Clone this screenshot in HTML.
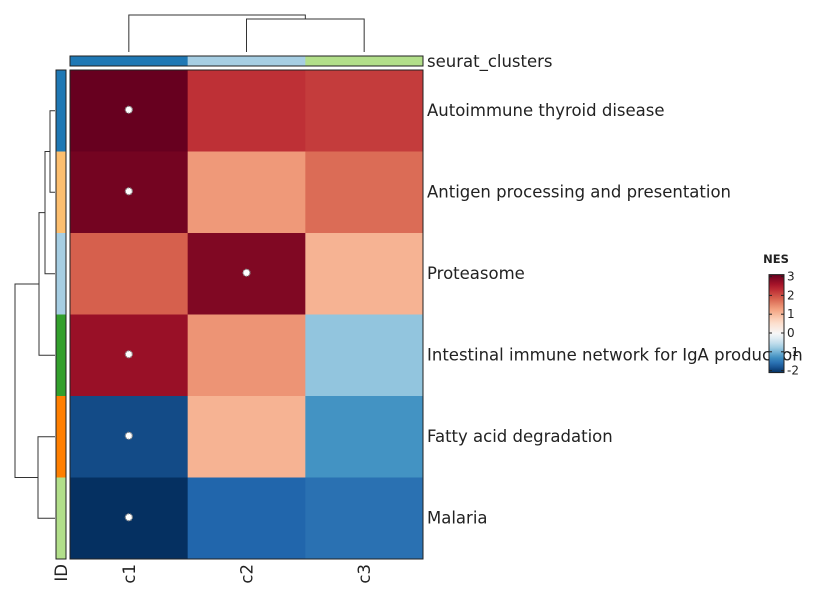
<!DOCTYPE html>
<html><head><meta charset="utf-8"><style>body{margin:0;background:#fff}svg{display:block;font-family:"DejaVu Sans","Liberation Sans",sans-serif}</style></head>
<body>
<svg id="c" width="819" height="600"></svg>
<script>
const rows=["Autoimmune thyroid disease","Antigen processing and presentation","Proteasome","Intestinal immune network for IgA production","Fatty acid degradation","Malaria"];
const cols=["c1","c2","c3"];
const nes=[[3.0,2.2,2.1],[2.9,1.3,1.7],[1.8,2.8,1.05],[2.6,1.35,-0.8],[-1.8,1.05,-1.2],[-2.2,-1.6,-1.5]];
const sig=[[1,0,0],[1,0,0],[0,1,0],[1,0,0],[1,0,0],[1,0,0]];
const rowAnn=["#1F78B4","#FDBF6F","#A6CEE3","#33A02C","#FF7F00","#B2DF8A"];
const colAnn=["#1F78B4","#A6CEE3","#B2DF8A"];
const legendTicks=[3,2,1,0,-1,-2];
const NS="http://www.w3.org/2000/svg";const svg=document.getElementById('c');
function mk(t,a,p){const e=document.createElementNS(NS,t);for(const k in a)e.setAttribute(k,a[k]);(p||svg).appendChild(e);return e;}
const X0=70,X1=423,Y0=70,Y1=559;const cw=(X1-X0)/cols.length,rh=(Y1-Y0)/rows.length;
const xC=j=>X0+cw*(j+0.5),yC=i=>Y0+rh*(i+0.5);
const pos=["#F7F7F7","#FDDBC7","#F4A582","#D6604D","#B2182B","#67001F"],neg=["#F7F7F7","#D1E5F0","#92C5DE","#4393C3","#2166AC","#053061"];
function h2r(h){return [1,3,5].map(i=>parseInt(h.substr(i,2),16));}
function col(v){let p=v>=0?pos:neg,t=Math.min(1,Math.abs(v)/(v>=0?3:2))*5;let i=Math.min(4,Math.floor(t)),f=t-i;const a=h2r(p[i]),b=h2r(p[i+1]);return `rgb(${a.map((x,k)=>Math.round(x+(b[k]-x)*f)).join(',')})`;}
const ly=v=>333-v*18.8;
nes.forEach((r,i)=>r.forEach((v,j)=>{
 const e=mk('rect',{x:X0+cw*j,y:Y0+rh*i,width:cw+0.5,height:rh+0.5,fill:col(v)});
 
 
 if(sig[i][j]){const s=mk('circle',{cx:xC(j),cy:yC(i)-1,r:3.5,fill:'#fff',stroke:'#888','stroke-width':1.2,'stroke-dasharray':'1.5 1'});
 
 }
}));
mk('rect',{x:X0,y:Y0,width:X1-X0,height:Y1-Y0,fill:'none',stroke:'#222','stroke-width':1});
colAnn.forEach((c,j)=>{const e=mk('rect',{x:X0+cw*j,y:56,width:cw+0.3,height:10,fill:c});

});
mk('rect',{x:X0,y:56,width:X1-X0,height:10,fill:'none',stroke:'#222'});
const sc=mk('text',{x:427,y:67,'font-size':16.5,fill:'#222'});sc.textContent='seurat_clusters';

rowAnn.forEach((c,i)=>{const e=mk('rect',{x:56,y:Y0+rh*i,width:10,height:rh+0.3,fill:c});

});
mk('rect',{x:56,y:Y0,width:10,height:Y1-Y0,fill:'none',stroke:'#222'});
rows.forEach((r,i)=>{const t=mk('text',{x:427,y:yC(i)+5,'font-size':16.5,fill:'#222'});t.textContent=r;
});
cols.concat(['ID']).forEach((c,j)=>{const x=j<3?xC(j):61;const t=mk('text',{x:x+6,y:564,'font-size':16.5,fill:'#222','text-anchor':'end',transform:`rotate(-90 ${x+6} 564)`});t.textContent=c;
});
const dg=mk('g',{fill:'none',stroke:'#333','stroke-width':1});

[[`M${xC(1)} 52V19H${xC(2)}V52`],[`M${xC(0)} 52V15H${(xC(1)+xC(2))/2}V19`],
[`M55 ${yC(0)}H50V${yC(1)}H55`],[`M50 ${(yC(0)+yC(1))/2}H45V${yC(2)}H55`],
[`M45 ${((yC(0)+yC(1))/2+yC(2))/2}H39V${yC(3)}H55`],[`M55 ${yC(4)}H38V${yC(5)}H55`],
[`M39 ${(((yC(0)+yC(1))/2+yC(2))/2+yC(3))/2}H15V${(yC(4)+yC(5))/2}H38`]].forEach(d=>mk('path',{d:d[0]},dg));
const defs=mk('defs',{});const gr=mk('linearGradient',{id:'lg',x1:0,y1:0,x2:0,y2:1},defs);
for(let k=0;k<=20;k++){const v=3-5*k/20;mk('stop',{offset:k/20,'stop-color':col(v)},gr);}
const lb=mk('rect',{x:769,y:ly(3)-2,width:15,height:ly(-2)-ly(3)+4,fill:'url(#lg)',stroke:'#222'});

const lt=mk('text',{x:776,y:263,'font-size':11.5,'font-weight':'bold','text-anchor':'middle',fill:'#222'});lt.textContent='NES';

legendTicks.forEach(v=>{mk('line',{x1:769,x2:772,y1:ly(v),y2:ly(v),stroke:'#222'});mk('line',{x1:781,x2:784,y1:ly(v),y2:ly(v),stroke:'#222'});
const t=mk('text',{x:787,y:ly(v)+4,'font-size':12,fill:'#222'});t.textContent=v;
});
</script>
</body></html>
